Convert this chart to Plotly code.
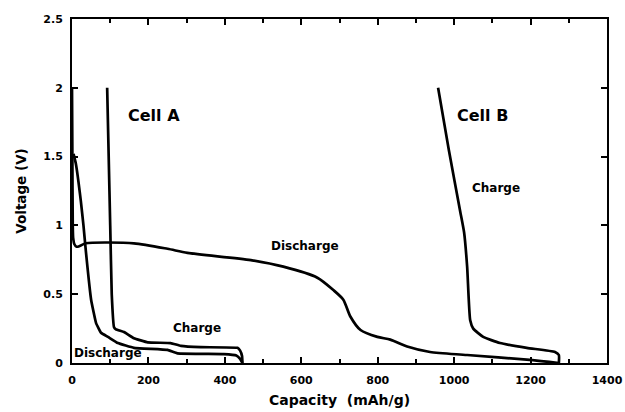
import plotly.graph_objects as go

# Cell A first discharge
a_dis_cap = [4, 10, 23, 30, 36, 50, 63, 76, 94, 120, 162, 250, 276, 397, 430, 440, 446]
a_dis_v = [1.52, 1.45, 1.18, 1.0, 0.82, 0.46, 0.29, 0.22, 0.19, 0.145, 0.11, 0.095, 0.07, 0.065, 0.055, 0.03, 0.0]

# Cell A charge
a_chg_cap = [446, 445, 440, 433, 337, 285, 258, 198, 162, 136, 115, 110, 104, 100, 96, 92]
a_chg_v = [0.0, 0.05, 0.09, 0.11, 0.115, 0.125, 0.145, 0.15, 0.18, 0.225, 0.245, 0.26, 0.5, 1.0, 1.5, 2.0]

# Cell B discharge
b_dis_cap = [0, 1, 2, 3, 6, 12, 20, 36, 162, 250, 302, 468, 553, 642, 684, 710, 728, 755, 799, 833, 877, 937, 1034, 1198, 1274]
b_dis_v = [2.0, 1.5, 1.0, 0.91, 0.865, 0.845, 0.85, 0.87, 0.87, 0.83, 0.80, 0.748, 0.70, 0.62, 0.53, 0.46, 0.34, 0.24, 0.19, 0.17, 0.12, 0.08, 0.058, 0.022, 0.0]

# Cell B charge
b_chg_cap = [1274, 1274, 1264, 1190, 1120, 1076, 1050, 1042, 1034, 1026, 1016, 986, 958]
b_chg_v = [0.0, 0.058, 0.08, 0.11, 0.145, 0.19, 0.25, 0.31, 0.70, 0.95, 1.1, 1.55, 2.0]

x_ticks = [0, 200, 400, 600, 800, 1000, 1200, 1400]
x_tick_text = ["0", "200", "400", "600", "800", "1000", "1200", "1400"]
y_ticks = [0, 0.5, 1, 1.5, 2, 2.5]
y_tick_text = ["0", "0.5", "1", "1.5", "2", "2.5"]

labels = [
    ("Cell A", 214, 1.80, 16),
    ("Cell B", 1073, 1.80, 16),
    ("Charge", 1110, 1.27, 12),
    ("Discharge", 611, 0.85, 12),
    ("Charge", 326, 0.254, 12),
    ("Discharge", 94, 0.07, 12),
]

FONT = "DejaVu Sans, Arial, sans-serif"
fig = go.Figure()
for (cx, cy), sm in [((a_dis_cap, a_dis_v), 0.3), ((a_chg_cap, a_chg_v), 0.3),
                     ((b_dis_cap, b_dis_v), 0.7), ((b_chg_cap, b_chg_v), 0.5)]:
    fig.add_trace(go.Scatter(x=cx, y=cy, mode="lines",
                             line=dict(color="black", width=2.7, shape="spline", smoothing=sm),
                             showlegend=False, hoverinfo="skip"))

for txt, x, y, size in labels:
    fig.add_annotation(x=x, y=y, text=f"<b>{txt}</b>", showarrow=False,
                       font=dict(family=FONT, size=size, color="black"))

fig.update_layout(
    width=625, height=412,
    margin=dict(l=72, r=18, t=19, b=49, autoexpand=False),
    paper_bgcolor="white", plot_bgcolor="white",
    font=dict(family=FONT, color="black"),
)
fig.update_xaxes(
    range=[0, 1400], tickvals=x_ticks, ticktext=[f"<b>{t}</b>" for t in x_tick_text],
    ticks="inside", ticklen=6, tickwidth=2, tickcolor="black", ticklabelstandoff=6,
    showline=True, linecolor="black", linewidth=2, mirror="ticks", showgrid=False, zeroline=False,
    automargin=False,
    tickfont=dict(family=FONT, size=11),
    minor=dict(dtick=100, ticks="inside", ticklen=4, tickwidth=1.5, tickcolor="black"),
    title=dict(text="<b>Capacity  (mAh/g)</b>", font=dict(family=FONT, size=14), standoff=9),
)
fig.update_yaxes(
    range=[0, 2.5], tickvals=y_ticks, ticktext=[f"<b>{t}</b>" for t in y_tick_text],
    ticks="inside", ticklen=6, tickwidth=2, tickcolor="black", ticklabelstandoff=5,
    showline=True, linecolor="black", linewidth=2, mirror="ticks", showgrid=False, zeroline=False,
    automargin=False,
    tickfont=dict(family=FONT, size=11),
    title=dict(text="<b>Voltage (V)</b>", font=dict(family=FONT, size=13.5), standoff=14),
)
fig.write_html("out.html")
